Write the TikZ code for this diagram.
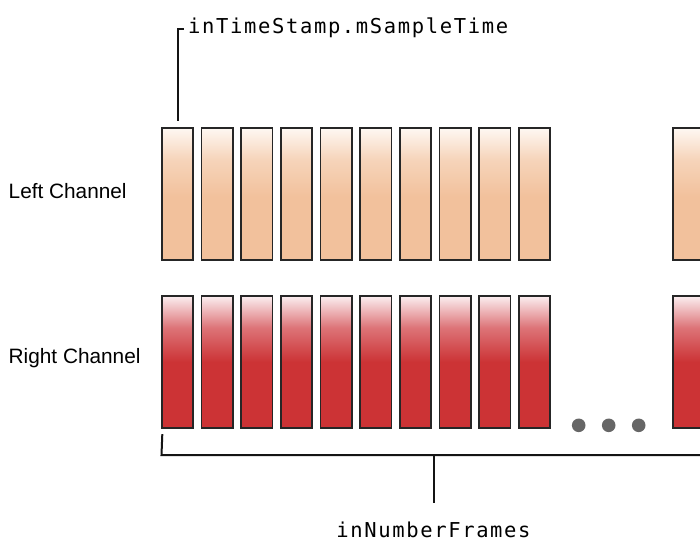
\documentclass[tikz,border=0pt]{standalone}
\usepackage{fontspec}
\setmainfont{Liberation Sans}
\newfontfamily\monofont[LetterSpace=8]{DejaVu Sans Mono}
\definecolor{lefttop}{HTML}{FEF8F3}
\definecolor{leftmid}{HTML}{F6D4BA}
\definecolor{leftcol}{HTML}{F2C19C}
\definecolor{righttop}{HTML}{FBEFF1}
\definecolor{rightmid}{HTML}{DD7478}
\definecolor{rightcol}{HTML}{CC3335}
\definecolor{dotgray}{HTML}{666666}
\definecolor{edge}{HTML}{262626}
\pgfdeclareverticalshading{leftshade}{100bp}{color(0bp)=(leftcol); color(25bp)=(leftcol); color(49bp)=(leftcol); color(63bp)=(leftmid); color(75bp)=(lefttop); color(100bp)=(lefttop)}
\pgfdeclareverticalshading{rightshade}{100bp}{color(0bp)=(rightcol); color(25bp)=(rightcol); color(50bp)=(rightcol); color(63bp)=(rightmid); color(75bp)=(righttop); color(100bp)=(righttop)}
\tikzset{
  barbox/.style={draw=edge, line width=1.7pt, minimum width=31.4pt, minimum height=132.4pt, inner sep=0pt, anchor=north west, outer sep=0pt},
  leftbar/.style={barbox, shading=leftshade},
  rightbar/.style={barbox, shading=rightshade},
  chanlabel/.style={anchor=base west, inner sep=0pt, font=\fontsize{20.8}{24}\selectfont},
  monolabel/.style={inner sep=0pt, font=\monofont\fontsize{20.5}{24}\selectfont},
  leader/.style={line width=2pt, draw=black!92},
  dotmark/.style={circle, fill=dotgray, minimum size=13.6pt, inner sep=0pt}
}
\begin{document}
\begin{tikzpicture}[x=1pt,y=-1pt]
\useasboundingbox (0,0) rectangle (700,542);
\clip (0,0) rectangle (700,542);
\fill[white] (0,0) rectangle (700,542);
% bars
\foreach \i in {0,...,9} {
  \node[leftbar] (L\i) at ({161.8+39.67*\i},127.8) {};
  \node[rightbar] (R\i) at ({161.8+39.67*\i},295.8) {};
}
\node[leftbar] (L10) at (672.8,127.8) {};
\node[rightbar] (R10) at (672.8,295.8) {};
% dots
\node[dotmark] (d1) at (578.7,425.3) {};
\node[dotmark] (d2) at (608.7,425.3) {};
\node[dotmark] (d3) at (638.7,425.3) {};
% labels
\node[chanlabel] (lc) at (8.5,198) {Left Channel};
\node[chanlabel] (rc) at (8.5,363) {Right Channel};
\node[monolabel, anchor=base west] (ts) at (188,33) {inTimeStamp.mSampleTime};
\node[monolabel, anchor=base] (nf) at (433.5,537) {inNumberFrames};
% leader to timestamp
\coordinate (tscorner) at (177.5,29);
\draw[leader] ([yshift=7pt]L0.north) -- (tscorner) -- ([xshift=-4pt]ts.west |- tscorner);
% bracket
\coordinate (brL) at (161.5,455);
\coordinate (brM) at (433.5,455);
\coordinate (brR) at (705,455);
\draw[leader] ([yshift=-6pt]R0.south west) ++(0.5,0) -- (brL) -- (brR);
\draw[leader] (brM) -- (433.5,503);
\end{tikzpicture}
\end{document}
